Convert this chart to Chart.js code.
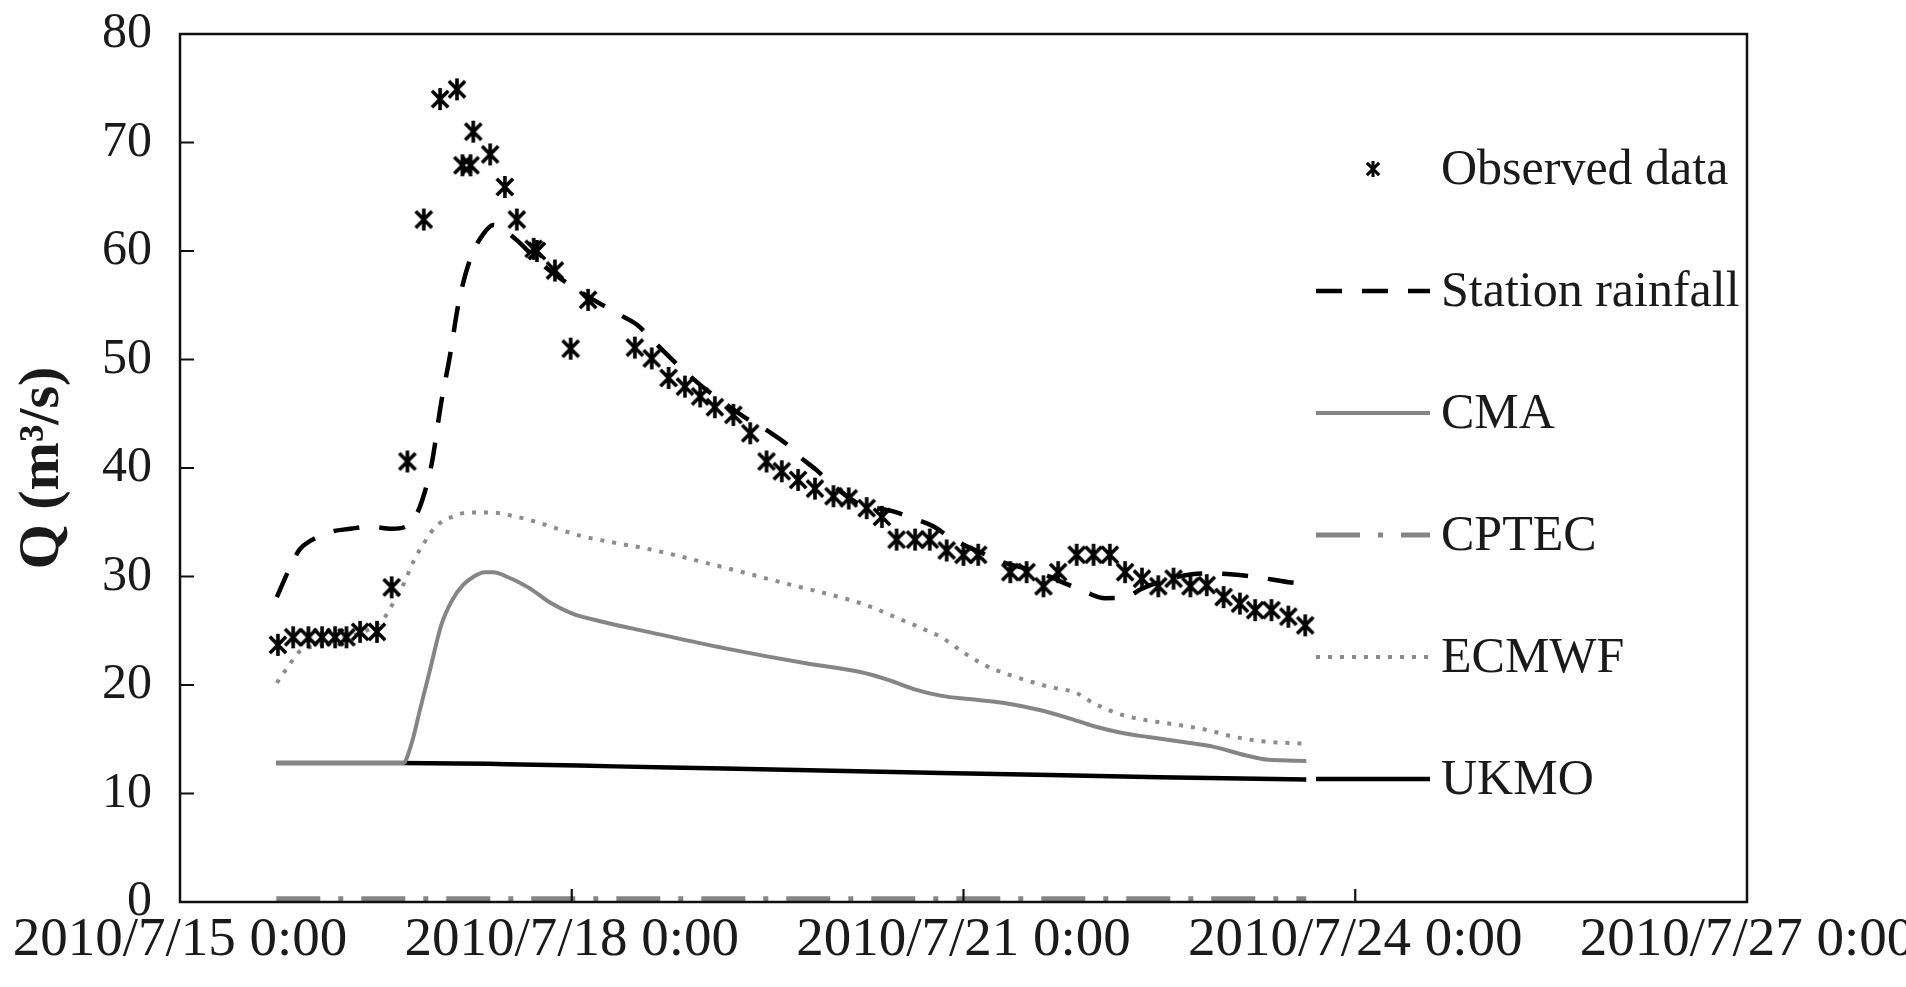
<!DOCTYPE html>
<html>
<head>
<meta charset="utf-8">
<script src="https://cdn.jsdelivr.net/npm/chart.js@4.4.0/dist/chart.umd.min.js"></script>
<style>
  html, body { margin: 0; padding: 0; background: #fff; }
  #wrap { width: 1906px; height: 987px; }
</style>
</head>
<body>
<div id="wrap"><canvas id="flow" width="1906" height="987"></canvas></div>
<script>
// hours counted from 2010/7/15 0:00
const xTickHours = [0, 72, 144, 216, 288];
const xTickLabels = ['2010/7/15 0:00', '2010/7/18 0:00', '2010/7/21 0:00', '2010/7/24 0:00', '2010/7/27 0:00'];
const yTicks = [0, 10, 20, 30, 40, 50, 60, 70, 80];

const seriesNames = ['Observed data', 'Station rainfall', 'CMA', 'CPTEC', 'ECMWF', 'UKMO'];

const obsHours = [18, 20.8, 23.6, 26.1, 28.5, 30.6, 33.1, 36.2, 38.9, 41.8,
  44.8, 47.8, 50.9, 51.9, 53.4, 53.9, 57, 59.7, 61.9, 65,
  65.6, 68.9, 71.8, 75, 83.6, 86.7, 89.8, 92.8, 95.6, 98.3,
  101.7, 104.8, 107.8, 110.6, 113.6, 116.7, 120.1, 122.9, 126.2, 129,
  131.7, 135.1, 137.8, 140.9, 144, 146.7, 152.6, 155.6, 158.7, 161.4,
  164.8, 167.9, 170.9, 173.7, 176.8, 179.8, 182.6, 185.7, 188.7, 191.8,
  194.8, 197.6, 200.6, 203.7, 206.8];
const obsQ = [23.7, 24.4, 24.4, 24.4, 24.4, 24.4, 24.9, 24.9, 29.0, 40.6,
  62.9, 74.0, 74.9, 67.9, 67.9, 71.0, 68.9, 65.9, 62.9, 60.2,
  60.0, 58.2, 51.0, 55.5, 51.1, 50.1, 48.3, 47.5, 46.6, 45.6,
  44.9, 43.2, 40.6, 39.7, 38.9, 38.1, 37.4, 37.2, 36.3, 35.5,
  33.4, 33.4, 33.4, 32.4, 32.0, 32.0, 30.4, 30.4, 29.1, 30.4,
  32.0, 32.0, 32.0, 30.4, 29.8, 29.1, 29.8, 29.1, 29.2, 28.1,
  27.5, 26.9, 26.9, 26.3, 25.5];

const stationHours = [17.8, 20, 22, 24, 27.6, 31.3, 35, 38.9, 41.5, 43,
  44.5, 46.3, 48, 49.6, 51.2, 53.3, 55.8, 57.6, 58.8, 61.9,
  66, 70.4, 75, 80.9, 84, 87, 91.9, 96, 100, 104,
  108.4, 111.5, 114, 117, 120, 124.4, 128, 131.1, 134.5, 138.5,
  141.5, 144.5, 147.7, 151.9, 155, 158.7, 163, 166.7, 170, 174,
  176.5, 182, 186, 189.6, 193, 197, 201, 204.9, 207];
const stationQ = [28.1, 30.6, 32.5, 33.3, 34.1, 34.4, 34.6, 34.4, 34.6, 35.3,
  37, 40.5, 46, 50.3, 55.2, 59.2, 61.6, 62.4, 62.2, 61,
  59, 57.3, 55.8, 54.1, 53.2, 51.7, 49.3, 47.5, 46, 44.6,
  43.3, 42.2, 41, 39.8, 38.4, 36.8, 36.3, 36, 35.4, 34.6,
  33.6, 32.8, 32.1, 31.2, 30.8, 30.2, 29.3, 28.5, 28, 28.1,
  28.8, 29.8, 30.2, 30.3, 30.2, 30, 29.7, 29.4, 29.3];

const cmaHours = [17.7, 41, 42.5, 44, 46, 48, 50, 52, 54, 56,
  57.6, 60, 64, 68, 72, 77, 86, 100, 115, 125,
  130, 135, 140, 145, 152, 158, 163, 168, 173, 178,
  185, 190, 196, 200, 207];
const cmaQ = [12.8, 12.8, 14.5, 17.5, 21.5, 25.5, 27.8, 29.2, 30, 30.4,
  30.4, 30, 29, 27.6, 26.6, 25.9, 24.9, 23.4, 22, 21.2,
  20.5, 19.6, 19, 18.7, 18.3, 17.7, 17, 16.2, 15.6, 15.2,
  14.7, 14.3, 13.5, 13.1, 13];

const cptecHours = [17.7, 207];
const cptecQ = [0.3, 0.3];

const ecmwfHours = [17.8, 20, 22, 25, 30, 35, 37.4, 39, 41, 43,
  45, 47, 50, 53, 57, 61, 65, 70, 74, 80,
  86.4, 98.7, 111, 123.4, 127, 131.7, 136, 139.9, 144, 148,
  152, 156.4, 160, 164.6, 168, 172.8, 177, 181, 185, 189.3,
  193, 197.5, 202, 207];
const ecmwfQ = [20.2, 21.8, 23.1, 23.6, 24.3, 25.2, 26.1, 27.4, 29.2, 31.5,
  33.2, 34.6, 35.5, 35.9, 35.9, 35.6, 35.1, 34.3, 33.7, 33.1,
  32.5, 31, 29.4, 27.8, 27.2, 26.2, 25.3, 24.4, 23, 21.8,
  21, 20.3, 19.8, 19.3, 18.3, 17.3, 16.8, 16.5, 16.2, 15.8,
  15.3, 14.9, 14.7, 14.6];

const ukmoHours = [17.7, 40, 60, 80, 100, 120, 140, 160, 180, 207];
const ukmoQ = [12.8, 12.8, 12.7, 12.5, 12.3, 12.1, 11.9, 11.7, 11.5, 11.3];

function pairs(xs, ys) {
  return xs.map((x, i) => ({ x: x, y: ys[i] }));
}

// asterisk marker: X with a vertical stroke
function makeStar(size, lw) {
  const c = document.createElement('canvas');
  c.width = size; c.height = size;
  const g = c.getContext('2d');
  const m = size * 0.16;
  g.strokeStyle = '#000';
  g.lineWidth = lw;
  g.beginPath();
  g.moveTo(m, m); g.lineTo(size - m, size - m);
  g.moveTo(size - m, m); g.lineTo(m, size - m);
  g.moveTo(size / 2, 1); g.lineTo(size / 2, size - 1);
  g.stroke();
  return c;
}
const starMark = makeStar(24, 3.6);
const starLegend = makeStar(18, 3);

const FONT = 'Liberation Serif';
const TEXT = '#1a1a1a';

//frame and inward tick marks
const framePlugin = {
  id: 'frame',
  afterDraw(chart) {
    const ctx = chart.ctx;
    const a = chart.chartArea;
    const xs = chart.scales.x, ys = chart.scales.y;
    ctx.save();
    ctx.strokeStyle = '#111';
    ctx.lineWidth = 2.5;
    ctx.strokeRect(a.left, a.top, a.right - a.left, a.bottom - a.top);
    ctx.lineWidth = 2.2;
    ctx.beginPath();
    ys.ticks.forEach(t => {
      if (t.value <= ys.min || t.value >= ys.max) return;
      const y = ys.getPixelForValue(t.value);
      ctx.moveTo(a.left, y); ctx.lineTo(a.left + 14, y);
    });
    xs.ticks.forEach(t => {
      if (t.value <= xs.min || t.value >= xs.max) return;
      const x = xs.getPixelForValue(t.value);
      ctx.moveTo(x, a.bottom); ctx.lineTo(x, a.bottom - 13);
    });
    ctx.stroke();
    ctx.restore();
  }
};

//legend drawn inside the plot area, right side
const legendPlugin = {
  id: 'innerLegend',
  afterDraw(chart) {
    const ctx = chart.ctx;
    const x0 = 1316, x1 = 1430, tx = 1441, y0 = 169, step = 122;
    ctx.save();
    chart.data.datasets.forEach((ds, i) => {
      const y = y0 + i * step;
      if (ds.showLine === false) {
        ctx.drawImage(starLegend, 1373 - starLegend.width / 2, y - starLegend.height / 2);
      } else {
        ctx.strokeStyle = ds.borderColor;
        ctx.lineWidth = ds.borderWidth;
        ctx.setLineDash(ds.borderDash || []);
        ctx.beginPath();
        ctx.moveTo(x0, y); ctx.lineTo(x1, y);
        ctx.stroke();
        ctx.setLineDash([]);
      }
      ctx.fillStyle = TEXT;
      ctx.font = '50px "' + FONT + '"';
      ctx.textAlign = 'left';
      ctx.textBaseline = 'middle';
      ctx.fillText(ds.label, tx, y + 2);
    });
    ctx.restore();
  }
};

const lineBase = {
  showLine: true,
  pointRadius: 0,
  pointHoverRadius: 0,
  cubicInterpolationMode: 'monotone',
  borderCapStyle: 'butt',
  fill: false
};

new Chart(document.getElementById('flow'), {
  type: 'scatter',
  data: {
    datasets: [
      {
        label: seriesNames[0],
        data: pairs(obsHours, obsQ),
        showLine: false,
        pointStyle: starMark,
        borderColor: '#000',
        backgroundColor: '#000'
      },
      Object.assign({}, lineBase, {
        label: seriesNames[1],
        data: pairs(stationHours, stationQ),
        borderColor: '#000',
        borderWidth: 4.5,
        borderDash: [26, 20]
      }),
      Object.assign({}, lineBase, {
        label: seriesNames[2],
        data: pairs(cmaHours, cmaQ),
        borderColor: '#858585',
        borderWidth: 4
      }),
      Object.assign({}, lineBase, {
        label: seriesNames[3],
        data: pairs(cptecHours, cptecQ),
        borderColor: '#858585',
        borderWidth: 5,
        borderDash: [44, 18, 5, 18]
      }),
      Object.assign({}, lineBase, {
        label: seriesNames[4],
        data: pairs(ecmwfHours, ecmwfQ),
        borderColor: '#8c8c8c',
        borderWidth: 4,
        borderDash: [4, 8]
      }),
      Object.assign({}, lineBase, {
        label: seriesNames[5],
        data: pairs(ukmoHours, ukmoQ),
        borderColor: '#000',
        borderWidth: 4.5
      })
    ]
  },
  options: {
    responsive: false,
    animation: false,
    events: [],
    layout: { padding: { left: 0, top: 34, right: 159, bottom: 0 } },
    plugins: {
      legend: { display: false },
      tooltip: { enabled: false }
    },
    scales: {
      x: {
        type: 'linear',
        min: xTickHours[0],
        max: xTickHours[xTickHours.length - 1],
        afterBuildTicks: scale => { scale.ticks = xTickHours.map(v => ({ value: v })); },
        afterFit: scale => {
          scale.height = 85;
          scale.paddingLeft = 0;
          scale.paddingRight = 0;
        },
        grid: { display: false, drawTicks: false },
        border: { display: false },
        ticks: {
          autoSkip: false,
          maxRotation: 0,
          padding: 6,
          color: TEXT,
          font: { family: FONT, size: 55 },
          callback: v => xTickLabels[xTickHours.indexOf(v)]
        }
      },
      y: {
        min: yTicks[0],
        max: yTicks[yTicks.length - 1],
        afterBuildTicks: scale => { scale.ticks = yTicks.map(v => ({ value: v })); },
        afterFit: scale => {
          scale.width = 180;
          scale.paddingTop = 0;
          scale.paddingBottom = 0;
        },
        grid: { display: false, drawTicks: false },
        border: { display: false },
        ticks: {
          padding: 28,
          color: TEXT,
          font: { family: FONT, size: 50 }
        },
        title: {
          display: true,
          text: 'Q (m³/s)',
          color: TEXT,
          padding: { top: 8, bottom: 0 },
          font: { family: FONT, size: 58, weight: 'bold' }
        }
      }
    }
  },
  plugins: [framePlugin, legendPlugin]
});
</script>
</body>
</html>
